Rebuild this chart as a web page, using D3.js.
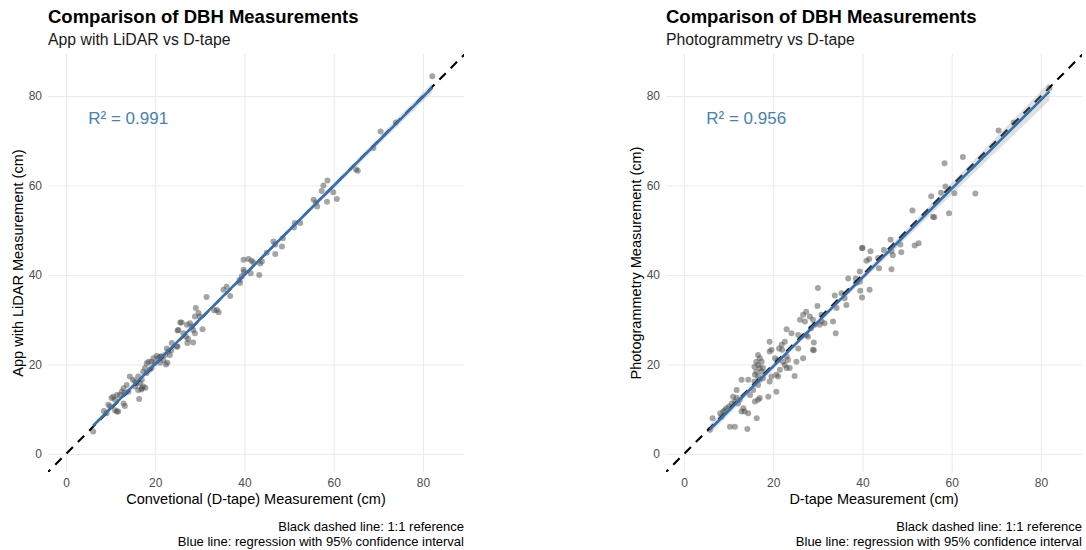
<!DOCTYPE html>
<html>
<head>
<meta charset="utf-8">
<script src="https://cdn.jsdelivr.net/npm/d3@7"></script>
<style>
  body { margin: 0; background: #ffffff; }
  text { font-family: "Liberation Sans", Arial, Helvetica, sans-serif; }
</style>
</head>
<body>
<svg id="chart" width="1086" height="550"></svg>
<script>
// ---- Data -----------------------------------------------------------------
const axisTicks = [0, 20, 40, 60, 80];

// App with LiDAR vs conventional D-tape (cm)
const lidarDtape = [82.1, 73.9, 70.5, 68.9, 65.0, 65.4, 58.6, 57.7, 57.3, 59.9, 60.7, 58.5, 55.5, 56.0, 56.3,
  52.5, 51.3, 51.1, 48.6, 46.5, 46.9, 48.4, 46.9, 45.0, 43.9, 43.3, 39.8, 40.9, 41.6, 42.0, 39.8, 39.9, 41.4,
  38.9, 39.4, 36.0, 35.3, 36.8, 43.5, 39.0,
  31.5, 33.8, 34.2, 33.2, 29.1, 29.7, 28.9, 30.0, 25.6, 27.1, 27.8, 28.2, 28.5, 28.9, 30.6, 25.0, 26.3, 26.9,
  27.4, 27.2, 28.5, 23.7, 25.0, 25.2, 25.9, 24.8,
  22.6, 22.9, 22.2, 23.3, 21.4, 21.8, 20.7, 20.3, 19.6, 19.2, 18.5, 18.1, 21.1, 22.7, 22.4, 23.6, 19.9, 21.1,
  17.7, 17.3, 18.1, 18.8, 19.2, 16.2, 17.0, 16.6, 17.3, 15.8, 15.5, 17.0, 17.8, 16.9, 14.3, 15.0, 16.4, 16.2,
  15.5, 13.6, 12.9, 12.5, 13.2, 12.1, 14.0, 10.6, 10.2, 11.0, 11.4, 13.2, 12.9, 11.0, 11.4, 11.7, 9.5, 9.9,
  8.5, 9.1, 6.1];
const lidarValues = [84.4, 74.1, 72.1, 68.4, 63.6, 63.3, 61.1, 60.0, 58.8, 58.5, 57.0, 56.4, 56.8, 56.2, 55.3,
  51.6, 51.6, 50.6, 48.2, 47.5, 46.8, 46.4, 44.7, 45.0, 43.0, 40.0, 43.4, 43.6, 43.2, 42.8, 41.2, 40.7, 40.4,
  38.9, 39.7, 37.4, 36.7, 35.3, 42.6, 38.2,
  35.1, 32.2, 31.7, 32.1, 32.6, 31.5, 30.7, 30.7, 29.4, 28.9, 29.2, 28.5, 27.7, 27.0, 27.9, 27.6, 27.0, 26.2,
  25.7, 24.8, 24.9, 24.8, 24.0, 27.7, 29.4, 24.0,
  23.6, 22.9, 22.1, 22.1, 21.8, 21.0, 21.4, 21.9, 21.4, 20.6, 20.6, 20.3, 20.4, 20.4, 20.0, 23.2, 20.3, 21.8,
  19.2, 18.4, 18.1, 18.8, 19.2, 17.3, 16.6, 15.8, 15.1, 15.8, 15.1, 14.7, 14.8, 14.4, 17.3, 16.6, 12.3, 14.3,
  16.2, 15.4, 14.7, 13.9, 13.6, 13.2, 13.9, 12.8, 12.5, 12.1, 13.2, 10.7, 11.3, 9.8, 9.5, 9.5, 11.0, 10.6,
  9.6, 9.1, 5.0];

// Photogrammetry vs D-tape (cm)
const photoDtape = [81.9, 73.9, 70.5, 62.5, 58.4, 58.6, 60.6, 65.3, 59.4, 55.4, 55.8, 56.1, 51.2, 51.7, 52.6,
  46.3, 48.5, 44.8, 46.5, 48.7, 46.8, 39.9, 40.0, 41.8, 40.9, 41.5, 43.5, 43.7, 46.5, 39.4, 36.8, 38.5, 39.4,
  39.5, 41.6, 33.8, 35.3, 39.9, 38.6, 57.6,
  30.0, 36.0, 36.4, 29.9, 34.2, 33.4, 34.0, 27.4, 26.7, 26.0, 27.1, 28.2, 28.9, 29.3, 30.8, 31.5, 28.5, 30.4, 30.8,
  23.0, 24.1, 25.6, 27.4, 27.8, 29.1, 28.9, 29.1, 25.6, 26.7, 25.2, 24.8, 23.0, 23.3, 22.6, 23.0, 23.7, 22.2,
  21.5, 20.7, 21.1, 21.9, 22.6, 21.3, 22.0, 20.4, 21.1, 19.2, 19.6, 19.2, 20.7, 19.2, 19.6, 18.9,
  16.6, 17.0, 16.2, 17.4, 16.6, 15.8, 17.0, 17.7, 16.2, 17.4, 15.9, 16.6, 17.7, 17.0, 15.8, 16.6, 14.4, 12.9,
  15.5, 14.8, 15.9, 16.6, 17.0, 16.3, 11.8, 11.0, 11.8, 11.4, 12.1, 10.7, 12.5, 13.3, 13.6, 12.9, 14.4, 10.1,
  9.5, 8.8, 9.2, 8.1, 8.4, 6.4, 10.3, 11.4, 14.2, 5.8];
const photoValues = [81.8, 74.1, 72.3, 66.4, 65.0, 59.8, 58.3, 58.2, 53.8, 57.6, 53.0, 52.9, 54.4, 46.6, 47.1,
  47.9, 46.8, 45.6, 45.3, 45.1, 44.4, 46.0, 46.1, 45.3, 43.2, 43.6, 43.8, 41.5, 41.3, 40.8, 39.2, 39.2, 38.5,
  36.5, 36.7, 35.4, 35.9, 35.0, 38.2, 58.4,
  37.1, 34.8, 33.3, 33.1, 32.6, 29.6, 27.0, 31.8, 31.1, 30.0, 29.6, 30.7, 30.0, 28.9, 29.6, 29.2, 28.1, 28.9, 31.1,
  27.9, 27.0, 26.6, 26.6, 26.2, 24.9, 23.3, 23.2, 23.6, 21.4, 20.6, 17.4, 21.8, 21.0, 19.9, 19.2, 19.2, 20.6,
  18.8, 17.7, 17.3, 24.4, 25.1, 23.6, 23.3, 21.4, 21.0, 25.1, 23.3, 22.9, 13.9, 16.2, 17.3, 12.8,
  22.1, 21.4, 20.6, 20.6, 19.9, 19.5, 19.2, 19.2, 18.4, 18.4, 17.7, 17.3, 16.9, 16.6, 16.2, 15.4, 16.6, 16.6,
  14.3, 13.2, 11.7, 12.1, 12.5, 8.0, 14.3, 12.8, 12.5, 11.7, 11.3, 11.3, 12.1, 10.2, 9.5, 9.5, 9.1, 10.6,
  10.2, 9.5, 9.8, 9.1, 8.3, 8.0, 6.1, 6.1, 5.6, 5.4];

const titles = ["Comparison of DBH Measurements", "Comparison of DBH Measurements"];
const subtitles = ["App with LiDAR vs D-tape", "Photogrammetry vs D-tape"];
const xTitles = ["Convetional (D-tape) Measurement (cm)", "D-tape Measurement (cm)"];
const yTitles = ["App with LiDAR Measurement (cm)", "Photogrammetry Measurement (cm)"];
const r2Labels = ["R\u00B2 = 0.991", "R\u00B2 = 0.956"];
const captionLines = ["Black dashed line: 1:1 reference", "Blue line: regression with 95% confidence interval"];

// ---- Layout ---------------------------------------------------------------
const panelW = 416, panelH = 418, panelTop = 54;
const panelLefts = [48, 666];
const series = [[lidarDtape, lidarValues], [photoDtape, photoValues]];
const blue = "#3270b0", textBlue = "#4682b4";
const tickFont = "12px";

const svg = d3.select("#chart");

// Ordinary least squares fit with a 95% confidence band for the mean
function linearFit(xs, ys) {
  const n = xs.length;
  const mx = d3.mean(xs), my = d3.mean(ys);
  let sxx = 0, sxy = 0;
  for (let i = 0; i < n; i++) { sxx += (xs[i] - mx) ** 2; sxy += (xs[i] - mx) * (ys[i] - my); }
  const slope = sxy / sxx, intercept = my - slope * mx;
  let sse = 0;
  for (let i = 0; i < n; i++) sse += (ys[i] - intercept - slope * xs[i]) ** 2;
  const s = Math.sqrt(sse / (n - 2));
  const t = 1.977;
  const predict = x => intercept + slope * x;
  const half = x => t * s * Math.sqrt(1 / n + (x - mx) ** 2 / sxx);
  return { predict, half, xmin: d3.min(xs), xmax: d3.max(xs) };
}

series.forEach(([xs, ys], p) => {
  const left = panelLefts[p];
  const x = d3.scaleLinear().domain([-4.03, 89.2]).range([0, panelW]);
  const y = d3.scaleLinear().domain([-4.03, 89.4]).range([panelH, 0]);

  const g = svg.append("g").attr("transform", `translate(${left},${panelTop})`);
  const clipId = "clip" + p;
  g.append("clipPath").attr("id", clipId)
    .append("rect").attr("width", panelW).attr("height", panelH);

  // Grid lines
  g.append("g").attr("transform", `translate(0,${panelH})`)
    .call(d3.axisBottom(x).tickValues(axisTicks).tickSize(-panelH).tickFormat(""))
    .call(a => a.select(".domain").remove())
    .call(a => a.selectAll("line").attr("stroke", "#ebebeb").attr("stroke-width", 1.1));
  g.append("g")
    .call(d3.axisLeft(y).tickValues(axisTicks).tickSize(-panelW).tickFormat(""))
    .call(a => a.select(".domain").remove())
    .call(a => a.selectAll("line").attr("stroke", "#ebebeb").attr("stroke-width", 1.1));

  // Tick labels
  g.append("g").attr("transform", `translate(0,${panelH})`)
    .call(d3.axisBottom(x).tickValues(axisTicks).tickSize(0).tickPadding(6))
    .call(a => a.select(".domain").remove())
    .call(a => a.selectAll("text").attr("fill", "#4d4d4d").style("font-size", tickFont)
      .style("font-family", "'Liberation Sans', Arial, sans-serif"));
  g.append("g")
    .call(d3.axisLeft(y).tickValues(axisTicks).tickSize(0).tickPadding(6))
    .call(a => a.select(".domain").remove())
    .call(a => a.selectAll("text").attr("fill", "#4d4d4d").style("font-size", tickFont)
      .style("font-family", "'Liberation Sans', Arial, sans-serif"));

  const plot = g.append("g").attr("clip-path", `url(#${clipId})`);

  // Observations
  plot.append("g").selectAll("circle")
    .data(d3.range(xs.length))
    .join("circle")
    .attr("cx", i => x(xs[i]))
    .attr("cy", i => y(ys[i]))
    .attr("r", 3)
    .attr("fill", "#4b4b4b")
    .attr("fill-opacity", 0.5);

  // 1:1 reference line
  plot.append("line")
    .attr("x1", x(-10)).attr("y1", y(-10))
    .attr("x2", x(100)).attr("y2", y(100))
    .attr("stroke", "#000").attr("stroke-width", 2.1)
    .attr("stroke-dasharray", "9,7");

  // Regression line with confidence band
  const fit = linearFit(xs, ys);
  const grid = d3.range(0, 81).map(k => fit.xmin + (fit.xmax - fit.xmin) * k / 80);
  plot.append("path")
    .datum(grid)
    .attr("d", d3.area()
      .x(v => x(v))
      .y0(v => y(fit.predict(v) - fit.half(v)))
      .y1(v => y(fit.predict(v) + fit.half(v))))
    .attr("fill", "#999999").attr("fill-opacity", 0.3);
  plot.append("path")
    .datum(grid)
    .attr("d", d3.line().x(v => x(v)).y(v => y(fit.predict(v))))
    .attr("fill", "none").attr("stroke", blue).attr("stroke-width", 2.6);

  // R-squared annotation
  g.append("text")
    .attr("x", x(5)).attr("y", y(75)).attr("dy", "0.35em")
    .attr("fill", textBlue).style("font-size", "17px")
    .text(r2Labels[p]);

  // Titles
  g.append("text").attr("x", 0).attr("y", 23 - panelTop)
    .style("font-size", "18.5px").style("font-weight", "bold").attr("fill", "#000")
    .text(titles[p]);
  g.append("text").attr("x", 0).attr("y", 45 - panelTop)
    .style("font-size", "15.8px").attr("fill", "#1a1a1a")
    .text(subtitles[p]);

  // Axis titles
  g.append("text").attr("x", panelW / 2).attr("y", 504 - panelTop)
    .attr("text-anchor", "middle").style("font-size", "14.5px").attr("fill", "#000")
    .text(xTitles[p]);
  g.append("text")
    .attr("transform", `translate(-25,${panelH / 2}) rotate(-90)`)
    .attr("text-anchor", "middle").style("font-size", "14.5px").attr("fill", "#000")
    .text(yTitles[p]);

  // Caption
  captionLines.forEach((line, k) => {
    g.append("text").attr("x", panelW).attr("y", 531 + k * 14.5 - panelTop)
      .attr("text-anchor", "end").style("font-size", "13px").attr("fill", "#000")
      .text(line);
  });
});
</script>
</body>
</html>
